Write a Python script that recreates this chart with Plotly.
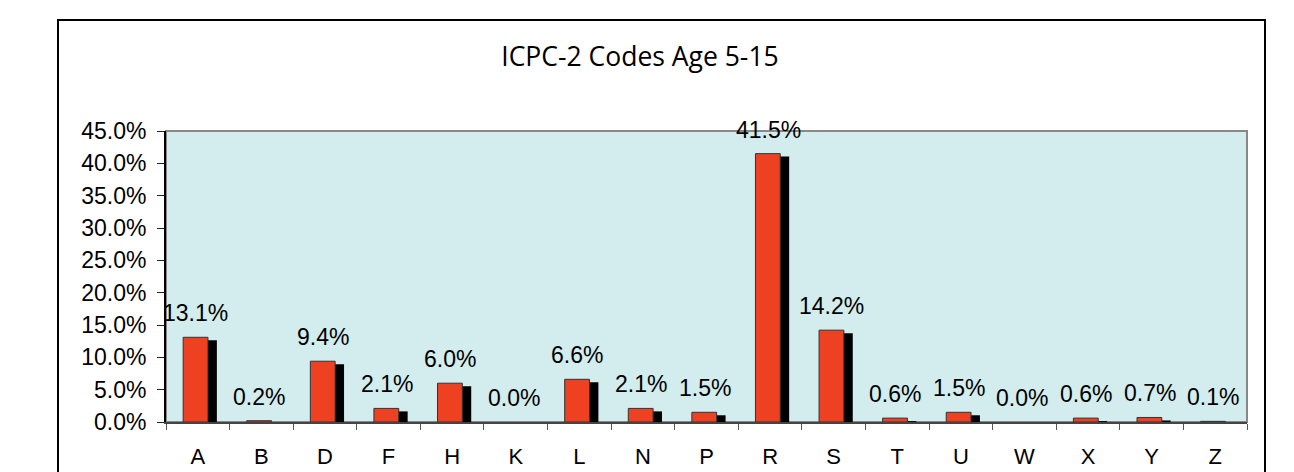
import plotly.graph_objects as go

categories = ["A", "B", "D", "F", "H", "K", "L", "N", "P", "R", "S", "T", "U", "W", "X", "Y", "Z"]
values = [13.1, 0.2, 9.4, 2.1, 6.0, 0.0, 6.6, 2.1, 1.5, 41.5, 14.2, 0.6, 1.5, 0.0, 0.6, 0.7, 0.1]
y_ticks = [0, 5, 10, 15, 20, 25, 30, 35, 40, 45]
title_text = "ICPC-2 Codes Age 5-15"

W, H = 1294, 472
O = 8  # page body margin
L, T = 166 - O, 131 - O
R = W - (1247 - O)
B = H - (422 - O)
pw, ph = W - L - R, H - T - B

def py(pix):
    return (H - B - (pix - O)) / ph

def px(pix):
    return ((pix - O) - L) / pw

fig = go.Figure()

# shadow bars (offset down/right)
fig.add_trace(go.Bar(
    x=categories, y=[max(v - 0.16, 0) for v in values], base=[-0.3] * len(values),
    width=0.47, offset=-0.17,
    marker=dict(color="black", line=dict(width=0)),
    cliponaxis=False, hoverinfo="skip", showlegend=False,
))
# main bars
fig.add_trace(go.Bar(
    x=categories, y=values,
    width=0.39, offset=-0.23,
    marker=dict(color="#EE4122",
                line=dict(color="#333333", width=[1 if v > 0 else 0 for v in values])),
    cliponaxis=False, showlegend=False,
))

for c, v in zip(categories, values):
    fig.add_annotation(x=c, y=v, text=f"{v:.1f}%", showarrow=False,
                       yanchor="middle", yshift=24, xshift=-2,
                       font=dict(family="Liberation Sans, Arial", size=23, color="black"))

# outer border
fig.add_shape(type="rect", xref="paper", yref="paper",
              x0=px(58), x1=px(1265), y0=py(500), y1=py(20),
              line=dict(color="black", width=2), fillcolor="rgba(0,0,0,0)", layer="below")
# plot area gray border
fig.add_shape(type="rect", xref="paper", yref="paper", x0=0, x1=1, y0=0, y1=1,
              line=dict(color="#888888", width=2), fillcolor="rgba(0,0,0,0)", layer="below")

fig.update_layout(
    width=W, height=H,
    margin=dict(l=L, r=R, t=T, b=B),
    paper_bgcolor="white", plot_bgcolor="#D3ECED",
    barmode="overlay",
    title=dict(text=title_text, x=(640 - O) / W, xanchor="center",
               y=1 - (57 - O) / H, yanchor="middle",
               font=dict(family="Open Sans", size=26.5, color="black")),
    xaxis=dict(type="category", tickson="boundaries", ticks="outside", ticklen=6,
               tickcolor="#555555", showline=True, linecolor="#444444", linewidth=2,
               showgrid=False, ticklabelstandoff=14, automargin=False,
               tickfont=dict(family="Liberation Sans, Arial", size=22, color="black"),
               range=[-0.5, len(categories) - 0.5]),
    yaxis=dict(range=[0, 45], tickvals=y_ticks, ticktext=[f"{t:.1f}%" for t in y_ticks],
               ticks="outside", ticklen=7, tickcolor="#222222",
               showline=True, linecolor="black", linewidth=2, showgrid=False, zeroline=False,
               ticklabelstandoff=6, automargin=False,
               tickfont=dict(family="Liberation Sans, Arial", size=23, color="black")),
)

fig.write_html("out.html")
